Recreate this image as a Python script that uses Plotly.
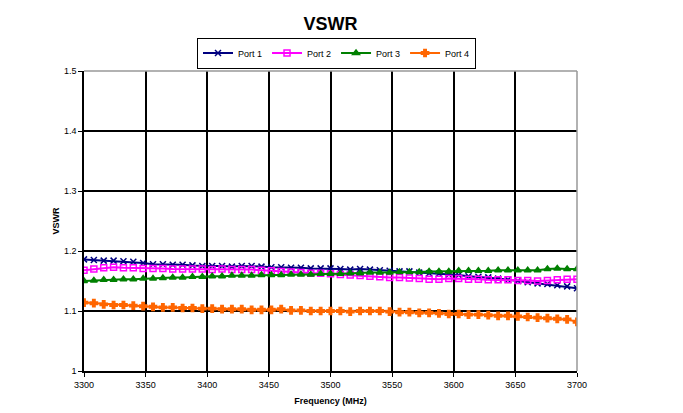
import plotly.graph_objects as go

freq = [3300 + 8 * i for i in range(51)]

port1 = [1.186, 1.185, 1.184, 1.184, 1.183, 1.182, 1.180, 1.178, 1.178, 1.177,
         1.177, 1.176, 1.175, 1.175, 1.175, 1.174, 1.175, 1.175, 1.174, 1.173,
         1.173, 1.172, 1.172, 1.171, 1.171, 1.171, 1.170, 1.169, 1.170, 1.169,
         1.168, 1.167, 1.166, 1.166, 1.164, 1.163, 1.162, 1.161, 1.160, 1.158,
         1.157, 1.156, 1.154, 1.152, 1.150, 1.148, 1.146, 1.145, 1.143, 1.141,
         1.138]
port2 = [1.168, 1.170, 1.172, 1.173, 1.172, 1.172, 1.171, 1.171, 1.171, 1.170,
         1.170, 1.170, 1.170, 1.169, 1.170, 1.169, 1.169, 1.169, 1.168, 1.167,
         1.166, 1.165, 1.164, 1.163, 1.163, 1.162, 1.161, 1.160, 1.159, 1.158,
         1.157, 1.156, 1.156, 1.155, 1.154, 1.153, 1.153, 1.154, 1.154, 1.153,
         1.153, 1.152, 1.152, 1.152, 1.151, 1.151, 1.150, 1.151, 1.152, 1.153,
         1.153]
port3 = [1.150, 1.151, 1.152, 1.152, 1.153, 1.153, 1.154, 1.154, 1.155, 1.156,
         1.156, 1.157, 1.157, 1.158, 1.158, 1.159, 1.159, 1.159, 1.160, 1.160,
         1.160, 1.161, 1.161, 1.161, 1.162, 1.162, 1.162, 1.163, 1.163, 1.164,
         1.164, 1.164, 1.165, 1.165, 1.165, 1.166, 1.166, 1.166, 1.167, 1.167,
         1.167, 1.167, 1.168, 1.168, 1.168, 1.168, 1.168, 1.170, 1.171, 1.170,
         1.170]
port4 = [1.114, 1.113, 1.111, 1.110, 1.110, 1.109, 1.108, 1.107, 1.106, 1.106,
         1.105, 1.105, 1.104, 1.104, 1.103, 1.103, 1.103, 1.102, 1.102, 1.102,
         1.103, 1.101, 1.101, 1.100, 1.100, 1.100, 1.100, 1.099, 1.100, 1.100,
         1.100, 1.099, 1.098, 1.098, 1.097, 1.097, 1.096, 1.095, 1.095, 1.094,
         1.094, 1.093, 1.092, 1.092, 1.091, 1.090, 1.089, 1.088, 1.087, 1.086,
         1.082]

series = [
    ("Port 1", port1, "#000080", "x-thin-open", 6),
    ("Port 2", port2, "#FF00FF", "square-open", 6),
    ("Port 3", port3, "#008000", "triangle-up", 6),
    ("Port 4", port4, "#FF6600", "cross", 6),
]

fig = go.Figure()
for name, vals, color, sym, sz in series:
    fig.add_trace(go.Scatter(
        x=freq, y=vals, name=name, mode="lines+markers",
        line=dict(color=color, width=2),
        marker=dict(symbol=sym, size=sz, color=color,
                    line=dict(color=color, width=1.5)),
    ))

# page body has an 8px offset; compensate
OFF = 8
W, H = 683 - OFF, 413 - OFF
L, T = 84 - OFF, 71 - OFF
pw, ph = 493, 300
R, B = W - L - pw, H - T - ph

fig.update_layout(
    width=W, height=H,
    margin=dict(l=L, r=R, t=T, b=B, autoexpand=False),
    paper_bgcolor="white", plot_bgcolor="white",
    font=dict(family="Liberation Sans, Arial", size=9, color="black"),
    title=dict(text="<b>VSWR</b>", x=(L + pw / 2) / W, xanchor="center",
               y=1 - (24 - OFF) / H, yanchor="middle",
               font=dict(size=18, family="Liberation Sans, Arial")),
    showlegend=True,
    legend=dict(orientation="h", x=(336.5 - 84) / pw, xanchor="center",
                y=1 + (71 - 53) / ph, yanchor="middle",
                bordercolor="black", borderwidth=1,
                font=dict(size=9), itemwidth=30,
                tracegroupgap=0),
    xaxis=dict(range=[3300, 3700], dtick=50, tick0=3300,
               showgrid=True, gridcolor="black", gridwidth=1.5,
               showline=True, linecolor="black", linewidth=1.5,
               ticks="outside", ticklen=4, tickcolor="black",
               zeroline=False, mirror=False, automargin=False,
               title=dict(text="<b>Frequency (MHz)</b>", font=dict(size=9), standoff=9)),
    yaxis=dict(range=[1.0, 1.5], dtick=0.1, tick0=1.0,
               showgrid=True, gridcolor="black", gridwidth=1.5,
               showline=True, linecolor="black", linewidth=1.5,
               ticks="outside", ticklen=4, tickcolor="black",
               zeroline=False, automargin=False,
               title=dict(text="<b>VSWR</b>", font=dict(size=9), standoff=3)),
    shapes=[
        dict(type="line", xref="paper", yref="paper",
             x0=0, x1=1, y0=1, y1=1, line=dict(color="#999999", width=1.5)),
        dict(type="line", xref="paper", yref="paper",
             x0=1, x1=1, y0=0, y1=1, line=dict(color="#999999", width=1.5)),
        dict(type="line", xref="paper", yref="paper",
             x0=(3 - 84) / pw, x1=(683 - 84) / pw, y0=1 + (71 - 4) / ph, y1=1 + (71 - 4) / ph,
             line=dict(color="#cccccc", width=1)),
        dict(type="line", xref="paper", yref="paper",
             x0=(3 - 84) / pw, x1=(3 - 84) / pw, y0=1 + (71 - 4) / ph, y1=-(413 - 371) / ph,
             line=dict(color="#cccccc", width=1)),
    ],
)

fig.write_html("out.html")
